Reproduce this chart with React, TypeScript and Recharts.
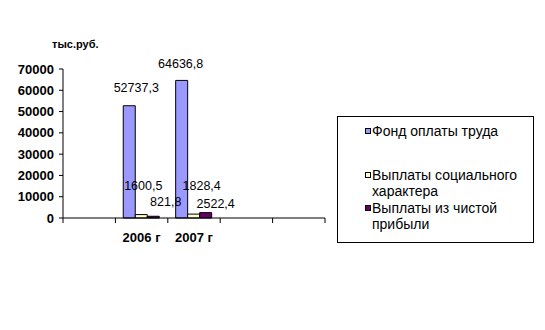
import { BarChart, Bar, XAxis, YAxis, LabelList } from "recharts";

const years = ["", "2006 г", "2007 г", "", ""];
const wageFund = [null, 52737.3, 64636.8, null, null];
const socialPayments = [null, 1600.5, 1828.4, null, null];
const profitPayments = [null, 821.8, 2522.4, null, null];
const yTicks = [0, 10000, 20000, 30000, 40000, 50000, 60000, 70000];

// label offsets (dx, dy from bar top centre) per category, Excel put them by hand
const series = [
  { key: "wage", name: "Фонд оплаты труда", color: "#9999FF", values: wageFund, offs: [null, [7, -18], [-1, -17]] },
  { key: "social", name: "Выплаты социального характера", color: "#FFFFCC", values: socialPayments, offs: [null, [2, -29], [8, -28.5]] },
  { key: "profit", name: "Выплаты из чистой прибыли", color: "#660066", values: profitPayments, offs: [null, [12.5, -15], [10, -9]] },
];

const data = years.map((year, i) => ({
  year,
  wage: wageFund[i],
  social: socialPayments[i],
  profit: profitPayments[i],
}));

const W = 545;
const H = 330;
const margin = { top: 69, right: 220, left: 8, bottom: 82 };
const Y_W = 55;
const band = (W - margin.left - margin.right - Y_W) / years.length;

const fmt = (v: any) => (v == null ? "" : String(v).replace(".", ","));

const makeLabel = (s: any) => (props: any) => {
  const { value } = props;
  if (value == null) return null;
  const vb = props.viewBox ?? props;
  const x = vb.x ?? props.x;
  const y = vb.y ?? props.y;
  const w = vb.width ?? props.width;
  const idx = s.values.indexOf(value);
  const off = s.offs[idx] || [0, -10];
  return (
    <text
      x={x + w / 2 + off[0]}
      y={y + off[1]}
      dy="0.35em"
      textAnchor="middle"
      fontSize={12.5}
      fill="#000"
    >
      {fmt(value)}
    </text>
  );
};

const XTick = (props: any) => {
  const { x, y, payload, index } = props;
  const left = x - band / 2;
  return (
    <g>
      <line x1={left} x2={left} y1={y - 5} y2={y} stroke="#000" />
      {index === years.length - 1 && (
        <line x1={x + band / 2} x2={x + band / 2} y1={y - 5} y2={y} stroke="#000" />
      )}
      <text
        x={x}
        y={y + 14}
        dy="0.35em"
        textAnchor="middle"
        fontSize={13}
        fontWeight="bold"
        fill="#000"
      >
        {payload.value}
      </text>
    </g>
  );
};

const legendTops = [7, 51, 84];

export default function App() {
  return (
    <div
      style={{
        position: "relative",
        width: W,
        height: H,
        fontFamily: "'Liberation Sans', Arial, sans-serif",
        background: "#fff",
      }}
    >
      <style>{`body{margin:0}`}</style>
      <div
        style={{
          position: "absolute",
          left: 52,
          top: 38,
          fontSize: 11,
          fontWeight: "bold",
        }}
      >
        тыс.руб.
      </div>
      <BarChart
        width={W}
        height={H}
        data={data}
        margin={margin}
        barCategoryGap="15%"
        barGap={0}
      >
        <XAxis
          dataKey="year"
          stroke="#000"
          tickLine={false}
          tickSize={5}
          tickMargin={0}
          height={30}
          interval={0}
          tick={<XTick />}
        />
        <YAxis
          domain={[0, 70000]}
          ticks={yTicks}
          width={Y_W}
          stroke="#000"
          tickSize={4}
          tickMargin={5}
          interval={0}
          tick={{ fill: "#000", fontSize: 13, fontWeight: "bold" }}
        />
        {series.map((s) => (
          <Bar
            key={s.key}
            dataKey={s.key}
            name={s.name}
            fill={s.color}
            stroke="#000"
            strokeWidth={1}
            isAnimationActive={false}
          >
            <LabelList dataKey={s.key} content={makeLabel(s)} />
          </Bar>
        ))}
      </BarChart>
      <div
        style={{
          position: "absolute",
          left: 337,
          top: 116,
          width: 197,
          height: 127,
          border: "1px solid #000",
          boxSizing: "border-box",
        }}
      >
        {series.map((s, i) => (
          <div
            key={s.key}
            style={{
              position: "absolute",
              left: 27,
              top: legendTops[i] - 1,
              display: "flex",
              alignItems: "flex-start",
            }}
          >
            <div
              style={{
                width: 6,
                height: 6,
                marginTop: 5,
                marginRight: 1,
                background: s.color,
                border: "1px solid #000",
                boxSizing: "border-box",
              }}
            />
            <div style={{ width: 160, fontSize: 14, lineHeight: "16px" }}>
              {s.name}
            </div>
          </div>
        ))}
      </div>
    </div>
  );
}
